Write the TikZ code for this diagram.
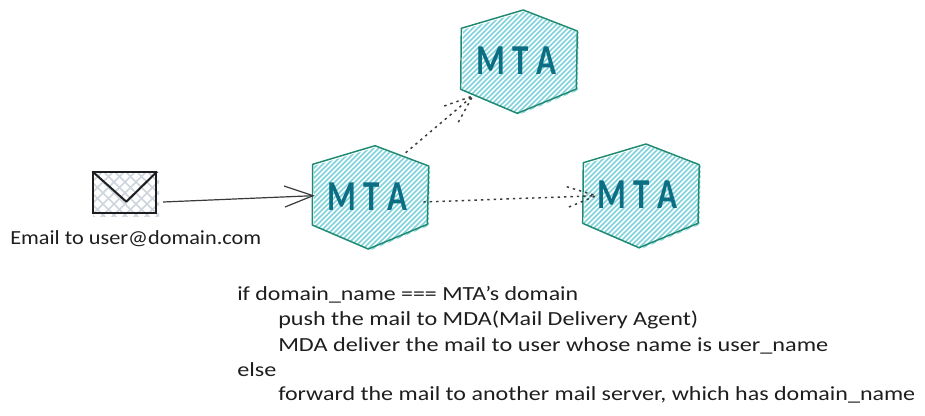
\documentclass[tikz,border=0pt]{standalone}
\usepackage{fontspec}
\usepackage{graphicx}
\setmainfont{Carlito}
\usetikzlibrary{arrows.meta,calc}
\definecolor{hexline}{HTML}{1F8A70}
\definecolor{hexfill}{HTML}{7FD3DE}
\definecolor{mtatext}{HTML}{0B6E82}
\definecolor{inkdark}{HTML}{1E1E1E}
\definecolor{arrowgrey}{HTML}{3A3A3A}
\definecolor{envfill}{HTML}{CFD5DE}
\newsavebox{\fitbox}
\newcommand{\fitw}[2]{\sbox{\fitbox}{#2}\pgfmathsetmacro{\fitscale}{#1*0.75/(\wd\fitbox/1pt)}\scalebox{\fitscale}[1]{\usebox{\fitbox}}}
\tikzset{
  x=0.75pt,y=-0.75pt,
  hexedge/.style={draw=hexline,line width=1.1pt,line join=round},
  hatchline/.style={hexfill,line width=1.2pt},
  mtalabel/.style={inner sep=0pt,text=mtatext,font=\fontsize{32}{34}\selectfont\bfseries,anchor=center},
  bodytext/.style={inner sep=0pt,text=inkdark,font=\fontsize{15}{17}\selectfont,anchor=base west},
  solidconn/.style={draw=arrowgrey,line width=0.9pt},
  dotconn/.style={draw=arrowgrey,line width=1.1pt,dash pattern=on 1.8pt off 3pt},
}
\newcommand{\hexagon}[7]{%
  \begin{scope}
    \clip[shift={(1.5,1.5)}] #2 -- #3 -- #4 -- #5 -- #6 -- #7 -- cycle;
    \foreach \k in {-40,...,40}{
      \draw[hatchline] ($#1+(\k*5-90,90)$) -- ($#1+(\k*5+90,-90)$);
    }
  \end{scope}
  \draw[hexedge] #2 -- #3 -- #4 -- #5 -- #6 -- #7 -- cycle;
}
\begin{document}
\begin{tikzpicture}
\useasboundingbox (0,0) rectangle (925,415);
\fill[white] (0,0) rectangle (925,415);

% envelope
\begin{scope}
  \clip (93,172) rectangle (159,216);
  \foreach \k in {-12,...,12}{
    \draw[envfill,line width=1.1pt] (125+\k*11-40,193+40) -- (125+\k*11+40,193-40);
    \draw[envfill,line width=1.1pt] (125+\k*11-40,193-40) -- (125+\k*11+40,193+40);
  }
\end{scope}
\node[draw=inkdark,line width=1.5pt,fill=none,inner sep=0pt,minimum width=47pt,minimum height=30.5pt] (env) at (124.8,192.8) {};
\coordinate (envtip) at (126.3,201.7);
\draw[inkdark,line width=1.5pt,line join=round] (env.north west) -- (envtip) -- (env.north east);
\node[bodytext] (emaillabel) at (10,244) {\fitw{251}{Email to user@domain.com}};

% hexagons
\hexagon{(370,197)}{(312.7,164.3)}{(375,145.7)}{(428.7,166)}{(427.3,224.3)}{(368.3,249)}{(312.3,225)}
\hexagon{(519,62)}{(461.3,28.3)}{(523.3,10)}{(577.3,31)}{(576.3,89)}{(517.3,113.3)}{(460.7,89.3)}
\hexagon{(641,196)}{(583.3,162.7)}{(646,144)}{(699.3,164.7)}{(698,223.3)}{(639,247.7)}{(582.7,223.3)}

\node[mtalabel] (mtaleft) at (367.5,197) {\fitw{80}{M T A}};
\node[mtalabel] (mtatop) at (516,60.5) {\fitw{80}{M T A}};
\node[mtalabel] (mtaright) at (637.5,195) {\fitw{80}{M T A}};

% connectors
\coordinate (startA) at (163,202);
\coordinate (endA) at (313,195.7);
\coordinate (barbA1) at (284,186);
\coordinate (barbA2) at (285,207);
\draw[solidconn] (startA) -- (endA);
\draw[solidconn] (barbA1) -- (endA) -- (barbA2);

\coordinate (startB) at (405.7,152.7);
\coordinate (endB) at (472.7,96);
\coordinate (barbB1) at (444.3,106);
\coordinate (barbB2) at (458.3,122.3);
\draw[dotconn] (startB) -- (endB);
\draw[dotconn] (barbB1) -- (endB) -- (barbB2);

\coordinate (startC) at (423.3,202);
\coordinate (endC) at (596,195.7);
\coordinate (barbC1) at (566.7,186.7);
\coordinate (barbC2) at (567.3,207.7);
\draw[dotconn] (startC) -- (endC);
\draw[dotconn] (barbC1) -- (endC) -- (barbC2);

% text
\node[bodytext] (line1) at (237,300) {\fitw{341}{if domain\_name === MTA's domain}};
\node[bodytext] (line2) at (278,325) {\fitw{420}{push the mail to MDA(Mail Delivery Agent)}};
\node[bodytext] (line3) at (278,351) {\fitw{550}{MDA deliver the mail to user whose name is user\_name}};
\node[bodytext] (line4) at (237,376) {\fitw{39}{else}};
\node[bodytext] (line5) at (278,400) {\fitw{637}{forward the mail to another mail server, which has domain\_name}};
\end{tikzpicture}
\end{document}
